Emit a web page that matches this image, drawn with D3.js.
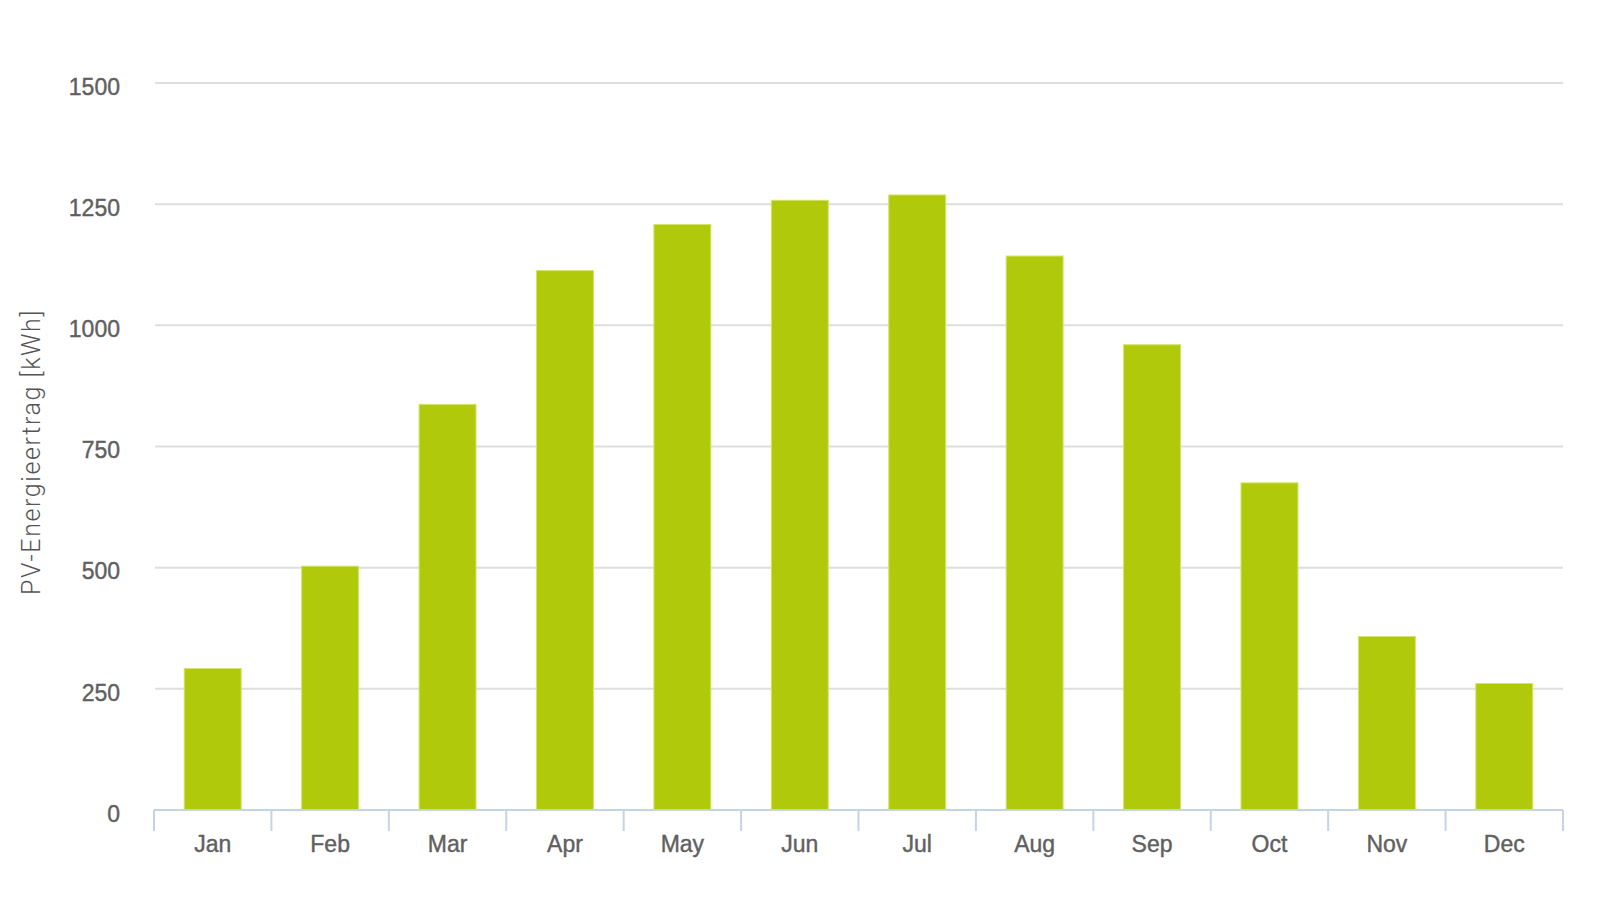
<!DOCTYPE html>
<meta charset="utf-8">
<style>
body { margin: 0; background: #fff; }
.tick text { font-family: "Liberation Sans", Arial, sans-serif; }
</style>
<body>
<script src="https://d3js.org/d3.v7.min.js"></script>
<script>

var months = ["Jan", "Feb", "Mar", "Apr", "May", "Jun", "Jul", "Aug", "Sep", "Oct", "Nov", "Dec"];
var yields = [292, 503, 837, 1113, 1208, 1258, 1269, 1143, 960, 675, 358, 261];
var yTicks = [0, 250, 500, 750, 1000, 1250, 1500];

var width = 1600,
    height = 900;

var plotLeft = 154, plotRight = 1563, plotTop = 83, plotBottom = 810;

var svg = d3.select("body").append("svg")
    .attr("width", width)
    .attr("height", height);

var x = d3.scaleBand()
    .domain(months)
    .range([plotLeft, plotRight])
    .paddingInner(0.515)
    .paddingOuter(0.2575);

var y = d3.scaleLinear()
    .domain([0, 1500])
    .range([plotBottom, plotTop]);

// gridlines
svg.append("g")
    .selectAll("line")
    .data(yTicks.filter(d => d > 0))
    .enter().append("line")
    .attr("x1", plotLeft + 1)
    .attr("x2", plotRight)
    .attr("y1", d => y(d))
    .attr("y2", d => y(d))
    .attr("stroke", "#dedede")
    .attr("stroke-width", 2);

// y labels
var yAxis = svg.append("g")
    .attr("transform", "translate(" + (plotLeft - 34) + ",3)")
    .call(d3.axisLeft(y).tickValues(yTicks).tickFormat(d3.format("d")).tickSize(0).tickPadding(0));
yAxis.select(".domain").remove();
yAxis.selectAll("text")
    .attr("fill", "#606060")
    .attr("stroke", "#606060")
    .attr("stroke-width", 0.4)
    .style("font-size", "23px")
    .attr("dy", "0.36em");

// bars
svg.append("g")
    .selectAll("rect")
    .data(months)
    .enter().append("rect")
    .attr("x", d => x(d))
    .attr("width", x.bandwidth())
    .attr("y", (d, i) => y(yields[i]))
    .attr("height", (d, i) => plotBottom - y(yields[i]))
    .attr("fill", "#b0c90a")
    .attr("stroke", "#d4e46a")
    .attr("stroke-width", 1);

// x axis
var xTickPos = d3.range(months.length + 1).map(i => plotLeft + i * x.step());
var xg = svg.append("g");
xg.append("line")
    .attr("x1", plotLeft).attr("x2", plotRight)
    .attr("y1", plotBottom).attr("y2", plotBottom)
    .attr("stroke", "#c6d3e2")
    .attr("stroke-width", 2);
xg.selectAll("line.tk")
    .data(xTickPos)
    .enter().append("line")
    .attr("class", "tk")
    .attr("x1", d => d).attr("x2", d => d)
    .attr("y1", plotBottom).attr("y2", plotBottom + 21)
    .attr("stroke", "#c6d3e2")
    .attr("stroke-width", 2);
xg.selectAll("text")
    .data(months)
    .enter().append("text")
    .attr("x", d => x(d) + x.bandwidth() / 2)
    .attr("y", 852)
    .attr("text-anchor", "middle")
    .attr("fill", "#606060")
    .attr("stroke", "#606060")
    .attr("stroke-width", 0.4)
    .style("font-family", "'Liberation Sans', Arial, sans-serif")
    .style("font-size", "23px")
    .text(d => d);

// y title
svg.append("text")
    .attr("transform", "translate(40,452) rotate(-90)")
    .attr("text-anchor", "middle")
    .attr("fill", "#555")
    .style("font-family", "Roboto, sans-serif")
    .style("font-weight", 300)
    .style("font-size", "25px")
    .style("letter-spacing", "1.6px")
    .text("PV-Energieertrag [kWh]");

</script>
</body>
</html>
